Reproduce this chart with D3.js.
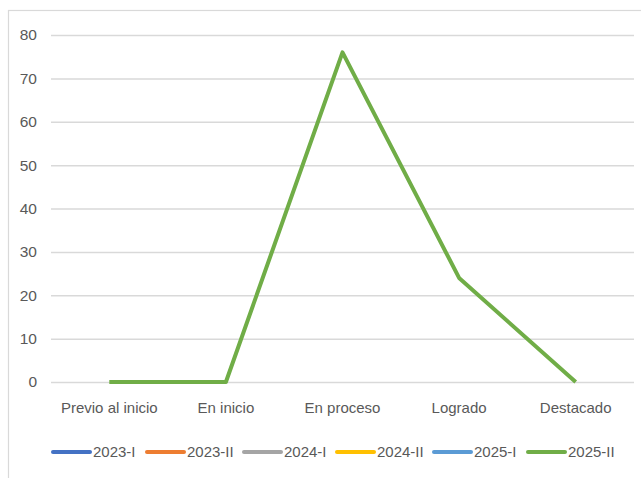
<!DOCTYPE html>
<html><head><meta charset="utf-8">
<script src="https://cdn.jsdelivr.net/npm/d3@7"></script>
<style>body{margin:0;background:#fff}svg{display:block}</style>
</head><body>
<script>
const categories = ["Previo al inicio","En inicio","En proceso","Logrado","Destacado"];
const seriesNames = ["2023-I","2023-II","2024-I","2024-II","2025-I","2025-II"];
const s2023I  = [null,null,null,null,null];
const s2023II = [null,null,null,null,null];
const s2024I  = [null,null,null,null,null];
const s2024II = [null,null,null,null,null];
const s2025I  = [null,null,null,null,null];
const s2025II = [0,0,76,24,0];
const yTicks = [0,10,20,30,40,50,60,70,80];
const colors = ["#4472C4","#ED7D31","#A5A5A5","#FFC000","#5B9BD5","#70AD47"];
const allSeries = [s2023I,s2023II,s2024I,s2024II,s2025I,s2025II];

const W=641,H=478;
const svg=d3.select("body").append("svg").attr("width",W).attr("height",H);
const font="'Liberation Sans Narrow','Arial Narrow','Liberation Sans',sans-serif";
svg.append("rect").attr("x",8.5).attr("y",10.5).attr("width",700).attr("height",500)
  .attr("fill","#fff").attr("stroke","#d9d9d9").attr("stroke-width",1.2);

const x=d3.scaleBand().domain(categories).range([51,634]);
const y=d3.scaleLinear().domain([0,80]).range([382,35]);

const gy=svg.append("g").attr("transform","translate(51,0)")
  .call(d3.axisLeft(y).tickValues(yTicks).tickSize(-583).tickPadding(14));
gy.select(".domain").remove();
gy.selectAll(".tick line").attr("stroke","#d9d9d9").attr("stroke-width",1.5);
gy.selectAll(".tick text").attr("fill","#595959").style("font-family",font).style("font-size","15.5px");

const gx=svg.append("g").attr("transform","translate(0,382)")
  .call(d3.axisBottom(x).tickSize(0).tickPadding(20));
gx.select(".domain").remove();
gx.selectAll(".tick text").attr("fill","#595959").style("font-family",font).style("font-size","15px");

const line=d3.line().defined(d=>d!=null)
  .x((d,i)=>x(categories[i])+x.bandwidth()/2).y(d=>y(d));
allSeries.forEach((s,k)=>{
  svg.append("path").datum(s).attr("d",line).attr("fill","none")
    .attr("stroke",colors[k]).attr("stroke-width",4).attr("stroke-linejoin","round");
});

const legX=[53,147,244,337,434,528];
const lg=svg.append("g");
seriesNames.forEach((n,k)=>{
  lg.append("line").attr("x1",legX[k]).attr("x2",legX[k]+37).attr("y1",452).attr("y2",452)
    .attr("stroke",colors[k]).attr("stroke-width",4).attr("stroke-linecap","round");
  lg.append("text").attr("x",legX[k]+40).attr("y",452).attr("dy","0.35em")
    .attr("fill","#595959").style("font-family",font).style("font-size","15px").text(n);
});
</script>
</body></html>
